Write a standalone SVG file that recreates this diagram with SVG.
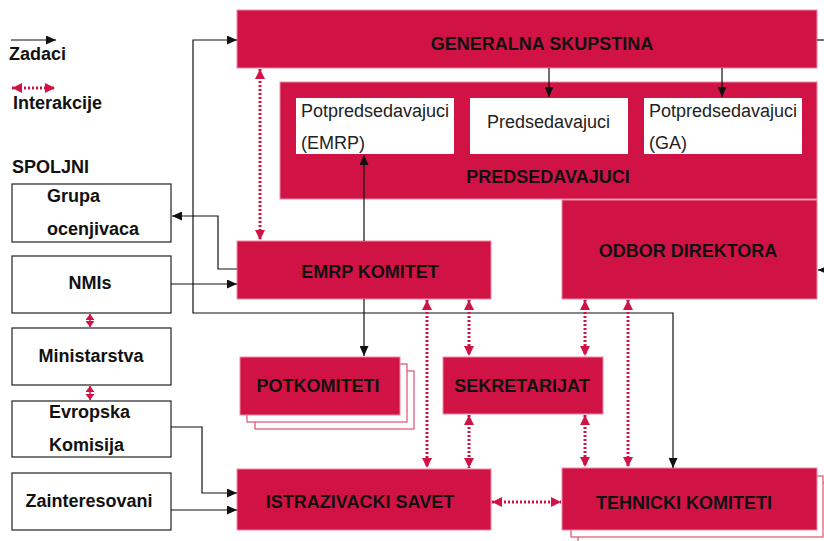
<svg xmlns="http://www.w3.org/2000/svg" width="824" height="541" viewBox="0 0 824 541">
<style>
.red{fill:#d11245;stroke:#ee8aa2;stroke-width:1}
.wb{fill:#ffffff;stroke:none}
.ext{fill:#ffffff;stroke:#222;stroke-width:1.2}
.stk{fill:#ffffff;stroke:#e0506e;stroke-width:1.2}
.t{font-family:"Liberation Sans",Arial,sans-serif;font-weight:bold;font-size:18px;fill:#111}
.r{font-family:"Liberation Sans",Arial,sans-serif;font-size:18px;fill:#222}
.m{text-anchor:middle}
.task{fill:none;stroke:#111;stroke-width:1.2}
.inter{fill:none;stroke:#d11245;stroke-width:3;stroke-dasharray:2 2}
.short{fill:none;stroke:#d11245;stroke-width:1.5}
</style>
<defs>
<marker id="arr" markerUnits="userSpaceOnUse" markerWidth="11" markerHeight="9" refX="10" refY="4.5" orient="auto-start-reverse"><path d="M0,0 L10,4.5 L0,9 z" fill="#111"/></marker>
<marker id="rarr" markerUnits="userSpaceOnUse" markerWidth="11" markerHeight="11" refX="10" refY="5" orient="auto-start-reverse"><path d="M0,0 L10,5 L0,10 z" fill="#d11245"/></marker>
<marker id="rsm" markerUnits="userSpaceOnUse" markerWidth="7" markerHeight="9" refX="6" refY="4.5" orient="auto-start-reverse"><path d="M0,0 L6,4.5 L0,9 z" fill="#d11245"/></marker>
</defs>
<rect width="824" height="541" fill="#ffffff"/>

<g id="legend">
<line x1="11" y1="40" x2="56" y2="40" class="task" marker-end="url(#arr)"/>
<text x="9" y="60" class="t">Zadaci</text>
<line x1="12" y1="88" x2="55" y2="88" class="inter" marker-start="url(#rarr)" marker-end="url(#rarr)"/>
<text x="13" y="109" class="t">Interakcije</text>
<text x="12" y="173" class="t">SPOLJNI</text>
</g>

<g id="generalna-skupstina">
<rect x="237" y="10" width="580" height="58" class="red"/>
<text x="542" y="50" class="t m">GENERALNA SKUPSTINA</text>
</g>

<g id="predsedavajuci">
<rect x="280" y="82" width="537" height="117" class="red"/>
<text x="548" y="183" class="t m">PREDSEDAVAJUCI</text>
</g>
<g id="potpredsedavajuci-emrp">
<rect x="296" y="98" width="158" height="56" class="wb"/>
<text x="301" y="117" class="r">Potpredsedavajuci</text>
<text x="301" y="149" class="r">(EMRP)</text>
</g>
<g id="predsedavajuci-box">
<rect x="470" y="98" width="158" height="56" class="wb"/>
<text x="487" y="128" class="r">Predsedavajuci</text>
</g>
<g id="potpredsedavajuci-ga">
<rect x="644" y="98" width="158" height="56" class="wb"/>
<text x="649" y="117" class="r">Potpredsedavajuci</text>
<text x="649" y="149" class="r">(GA)</text>
</g>

<g id="odbor-direktora">
<rect x="562" y="200" width="255" height="99" class="red"/>
<text x="688" y="257" class="t m">ODBOR DIREKTORA</text>
</g>

<g id="emrp-komitet">
<rect x="237" y="241" width="254" height="58" class="red"/>
<text x="370" y="278" class="t m">EMRP KOMITET</text>
</g>

<g id="potkomiteti">
<rect x="255" y="371" width="159" height="58" class="stk"/>
<rect x="247" y="364" width="160" height="58" class="stk"/>
<rect x="240" y="357" width="160" height="58" class="red"/>
<text x="318" y="392" class="t m">POTKOMITETI</text>
</g>

<g id="sekretarijat">
<rect x="443" y="357" width="160" height="57" class="red"/>
<text x="522" y="392" class="t m">SEKRETARIJAT</text>
</g>

<g id="istrazivacki-savet">
<rect x="237" y="469" width="254" height="61" class="red"/>
<text x="360" y="508" class="t m">ISTRAZIVACKI SAVET</text>
</g>

<g id="tehnicki-komiteti">
<rect x="578" y="483" width="252" height="62" class="stk"/>
<rect x="571" y="476" width="252" height="61" class="stk"/>
<rect x="562" y="468" width="255" height="62" class="red"/>
<text x="684" y="509" class="t m">TEHNICKI KOMITETI</text>
</g>

<g id="grupa-ocenjivaca">
<rect x="12" y="184" width="159" height="58" class="ext"/>
<text x="47" y="202" class="t">Grupa</text>
<text x="47" y="235" class="t">ocenjivaca</text>
</g>
<g id="nmis">
<rect x="12" y="256" width="159" height="57" class="ext"/>
<text x="90" y="289" class="t m">NMIs</text>
</g>
<g id="ministarstva">
<rect x="12" y="328" width="159" height="57" class="ext"/>
<text x="91" y="362" class="t m">Ministarstva</text>
</g>
<g id="evropska-komisija">
<rect x="12" y="401" width="159" height="56" class="ext"/>
<text x="49" y="418" class="t">Evropska</text>
<text x="49" y="451" class="t">Komisija</text>
</g>
<g id="zainteresovani">
<rect x="12" y="473" width="159" height="57" class="ext"/>
<text x="89" y="507" class="t m">Zainteresovani</text>
</g>

<g id="connectors">
<path d="M549,68 V97" class="task" marker-end="url(#arr)"/>
<path d="M722,68 V97" class="task" marker-end="url(#arr)"/>
<path d="M364,241 V155" class="task" marker-end="url(#arr)"/>
<path d="M237,269 H218 V216 H172" class="task" marker-end="url(#arr)"/>
<path d="M171,284 H237" class="task" marker-end="url(#arr)"/>
<path d="M237,40 H193 V313 H673 V468" class="task" marker-start="url(#arr)" marker-end="url(#arr)"/>
<path d="M364,299 V356" class="task" marker-end="url(#arr)"/>
<path d="M171,427 H202 V493 H237" class="task" marker-end="url(#arr)"/>
<path d="M171,510 H237" class="task" marker-end="url(#arr)"/>
<path d="M817,40 H824" class="task"/>
<path d="M830,270 H818" class="task" marker-end="url(#arr)"/>

<line x1="260" y1="69" x2="260" y2="240" class="inter" marker-start="url(#rarr)" marker-end="url(#rarr)"/>
<line x1="90" y1="314" x2="90" y2="327" class="short" marker-start="url(#rsm)" marker-end="url(#rsm)"/>
<line x1="90" y1="386" x2="90" y2="400" class="short" marker-start="url(#rsm)" marker-end="url(#rsm)"/>
<line x1="427" y1="300" x2="427" y2="468" class="inter" marker-start="url(#rarr)" marker-end="url(#rarr)"/>
<line x1="469" y1="300" x2="469" y2="356" class="inter" marker-start="url(#rarr)" marker-end="url(#rarr)"/>
<line x1="469" y1="415" x2="469" y2="468" class="inter" marker-start="url(#rarr)" marker-end="url(#rarr)"/>
<line x1="585" y1="300" x2="585" y2="356" class="inter" marker-start="url(#rarr)" marker-end="url(#rarr)"/>
<line x1="585" y1="415" x2="585" y2="467" class="inter" marker-start="url(#rarr)" marker-end="url(#rarr)"/>
<line x1="628" y1="300" x2="628" y2="467" class="inter" marker-start="url(#rarr)" marker-end="url(#rarr)"/>
<line x1="492" y1="502" x2="561" y2="502" class="inter" marker-start="url(#rarr)" marker-end="url(#rarr)"/>
</g>
</svg>
